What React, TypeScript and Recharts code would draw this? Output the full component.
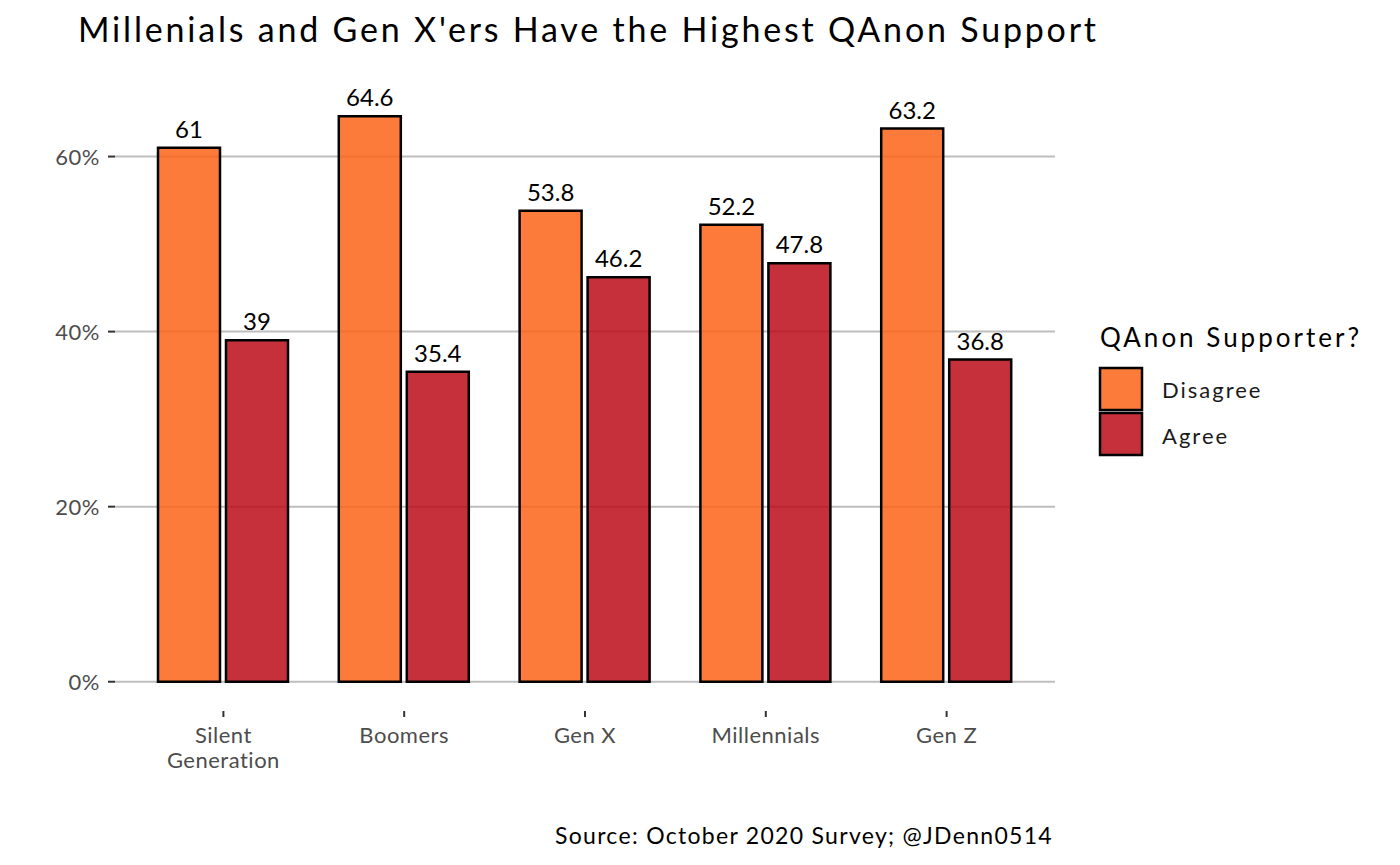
import React from 'react';
import {
  BarChart,
  Bar,
  XAxis,
  YAxis,
  CartesianGrid,
  LabelList,
} from 'recharts';

const generations = ['Silent\nGeneration', 'Boomers', 'Gen X', 'Millennials', 'Gen Z'];
const disagree = [61, 64.6, 53.8, 52.2, 63.2];
const agree = [39, 35.4, 46.2, 47.8, 36.8];
const yTicks = [0, 20, 40, 60];
const seriesNames = ['Disagree', 'Agree'];
const seriesColors = ['#FB6417', '#BB0C17'];

const chartData = generations.map((gen, i) => ({
  gen,
  Disagree: disagree[i],
  Agree: agree[i],
}));

const FONT = 'Lato, "Noto Sans", sans-serif';

const XTick = (props: any) => {
  const { x, y, payload } = props;
  const lines = String(payload.value).split('\n');
  return (
    <g>
      <line x1={x} x2={x} y1={y + 1} y2={y + 7} stroke="#333" strokeWidth={2} />
      <text x={x} y={y + 33} textAnchor="middle" fill="#4d4d4d" fontSize={22} letterSpacing={0.5} fontFamily={FONT}>
        {lines.map((l, i) => (
          <tspan key={i} x={x} dy={i === 0 ? 0 : 25}>
            {l}
          </tspan>
        ))}
      </text>
    </g>
  );
};

const YTick = (props: any) => {
  const { x, y, payload } = props;
  return (
    <g>
      <line x1={x - 7} x2={x} y1={y} y2={y} stroke="#333" strokeWidth={2} />
      <text x={x - 15} y={y + 8} textAnchor="end" fill="#4d4d4d" fontSize={22} letterSpacing={0.5} fontFamily={FONT}>
        {payload.value}%
      </text>
    </g>
  );
};

export default function App() {
  return (
    <div style={{ position: 'absolute', left: 0, top: 0, width: 1400, height: 865, background: '#fff' }}>
      <BarChart
        width={1400}
        height={865}
        data={chartData}
        margin={{ top: 88, right: 345, bottom: 95, left: 0 }}
        barCategoryGap={25}
        barGap={6}
      >
        <text x={78} y={42} fontSize={34} letterSpacing={2.8} fontFamily={FONT} fill="#000">
          Millenials and Gen X'ers Have the Highest QAnon Support
        </text>
        <text x={1053} y={844} textAnchor="end" fontSize={23} letterSpacing={1.3} fontFamily={FONT} fill="#000">
          Source: October 2020 Survey; @JDenn0514
        </text>
        <g>
          <text x={1100} y={347} fontSize={26} letterSpacing={3} fontFamily={FONT} fill="#000">
            QAnon Supporter?
          </text>
          {seriesNames.map((name, i) => (
            <g key={name}>
              <rect
                x={1100}
                y={368 + i * 45}
                width={42}
                height={42}
                fill={seriesColors[i]}
                fillOpacity={0.85}
                stroke="#000"
                strokeWidth={2.5}
              />
              <text x={1162} y={398 + i * 46} fontSize={22} letterSpacing={2} fontFamily={FONT} fill="#1a1a1a">
                {name}
              </text>
            </g>
          ))}
        </g>
        <CartesianGrid vertical={false} stroke="#bebebe" strokeWidth={2} syncWithTicks />
        <XAxis
          dataKey="gen"
          axisLine={false}
          tickLine={false}
          tickSize={0}
          tickMargin={0}
          height={60}
          interval={0}
          padding={{ left: 18, right: 18 }}
          tick={<XTick />}
        />
        <YAxis
          domain={[-3.23, 67.83]}
          ticks={yTicks}
          axisLine={false}
          tickLine={false}
          tickSize={0}
          tickMargin={0}
          width={115}
          tick={<YTick />}
          allowDataOverflow
        />
        {seriesNames.map((name, i) => (
          <Bar
            key={name}
            dataKey={name}
            fill={seriesColors[i]}
            fillOpacity={0.85}
            stroke="#000"
            strokeWidth={2.5}
            isAnimationActive={false}
          >
            <LabelList dataKey={name} position="top" offset={10} fill="#000" fontSize={24} fontFamily={FONT} />
          </Bar>
        ))}
      </BarChart>
    </div>
  );
}
